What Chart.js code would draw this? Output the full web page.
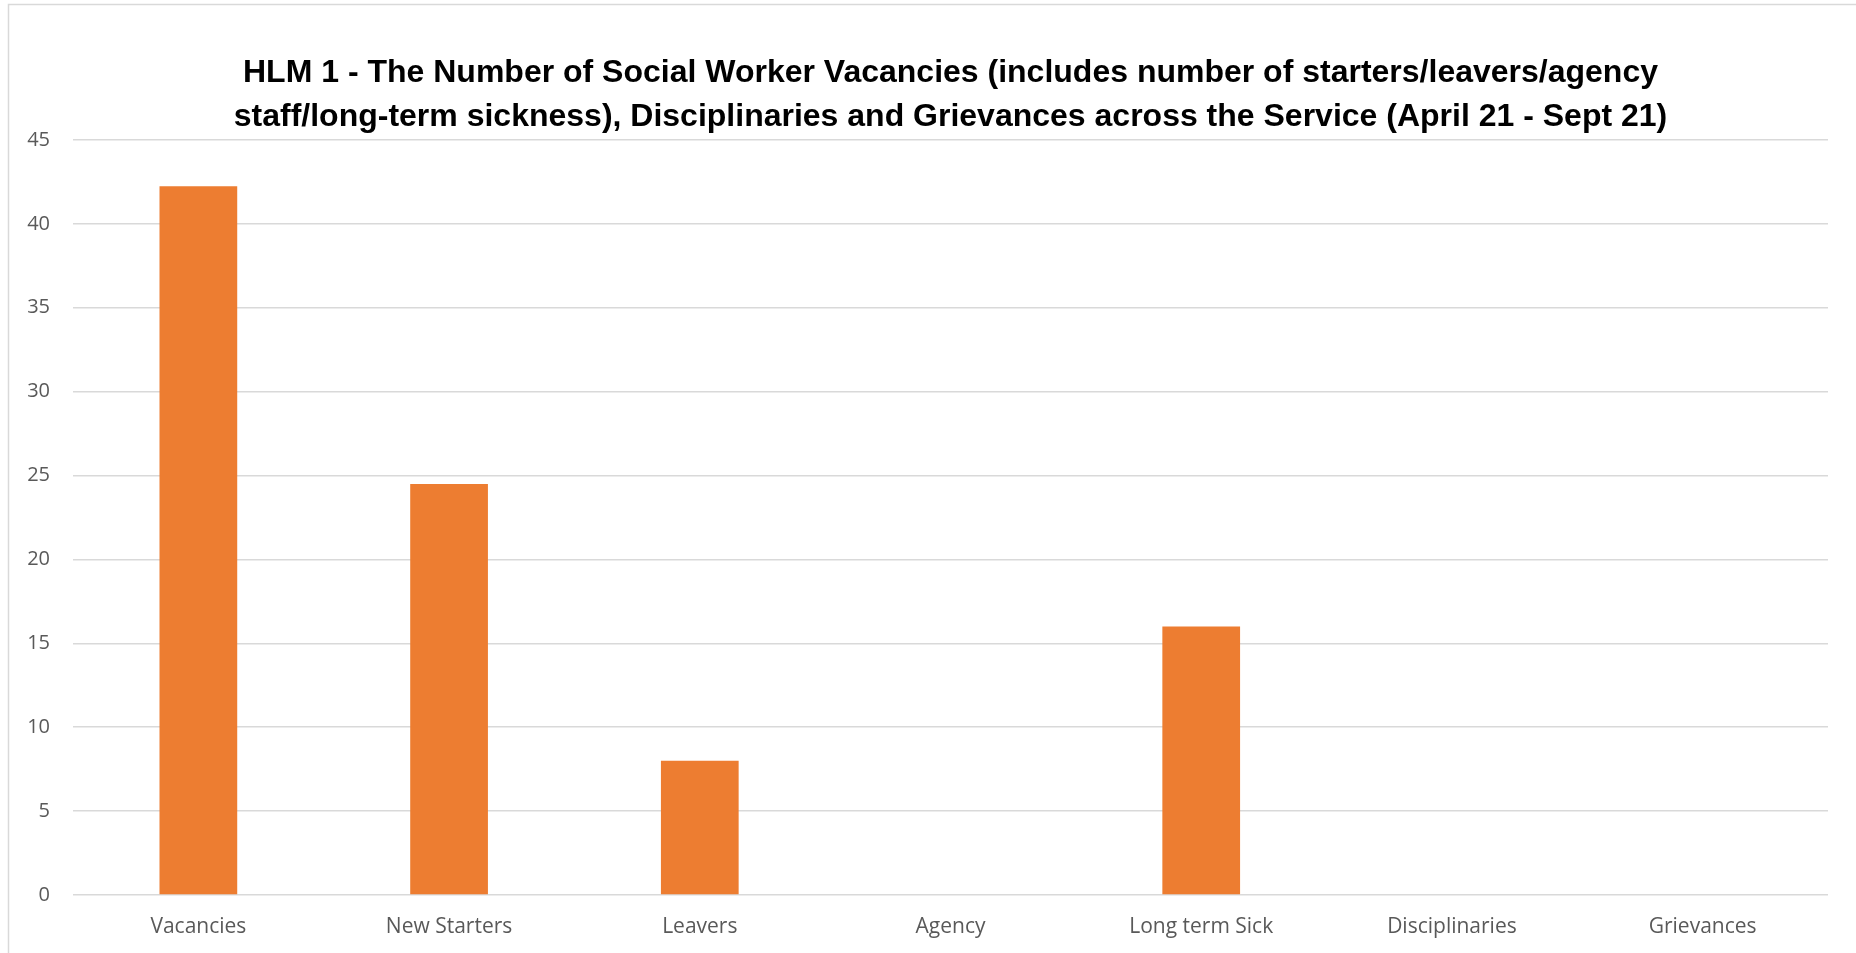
<!DOCTYPE html>
<html>
<head>
<meta charset="utf-8">
<script src="https://cdn.jsdelivr.net/npm/chart.js@4"></script>
<style>
  html, body { margin: 0; padding: 0; background: #fff; }
  #wrap { width: 1856px; height: 953px; position: relative; }
</style>
</head>
<body>
<div id="wrap"><canvas id="chart"></canvas></div>
<script>
const categories = ['Vacancies', 'New Starters', 'Leavers', 'Agency', 'Long term Sick', 'Disciplinaries', 'Grievances'];
const counts = [42.25, 24.5, 8, 0, 16, 0, 0];
const titleLines = [
  'HLM 1 - The Number of Social Worker Vacancies (includes number of starters/leavers/agency',
  'staff/long-term sickness), Disciplinaries and Grievances across the Service (April 21 - Sept 21)'
];

const orange = '#ED7D31';
const gridGrey = '#d9d9d9';
const labelGrey = '#595959';

// thin frame on the top and left edges, like the exported Excel chart
const framePlugin = {
  id: 'frame',
  beforeDraw(chart) {
    const ctx = chart.ctx;
    ctx.save();
    ctx.strokeStyle = gridGrey;
    ctx.lineWidth = 1.5;
    ctx.beginPath();
    ctx.moveTo(8.5, chart.height);
    ctx.lineTo(8.5, 4.5);
    ctx.lineTo(chart.width, 4.5);
    ctx.stroke();
    ctx.restore();
  }
};

window.onload = function() {
  const ctx = document.getElementById('chart').getContext('2d');
  window.myBar = new Chart(ctx, {
    type: 'bar',
    data: {
      labels: categories,
      datasets: [{
        data: counts,
        backgroundColor: orange,
        barPercentage: 0.31,
        categoryPercentage: 1
      }]
    },
    options: {
      responsive: true,
      maintainAspectRatio: false,
      animation: false,
      layout: { padding: { left: 0, right: 28, top: 0, bottom: 0 } },
      plugins: {
        legend: { display: false },
        tooltip: { enabled: false },
        title: {
          display: true,
          fullSize: false,
          text: titleLines,
          color: '#000',
          font: { family: '"Liberation Sans", Arial, sans-serif', size: 32, weight: 'bold', lineHeight: 1.375 },
          padding: { top: 51, bottom: 1 }
        }
      },
      scales: {
        x: {
          grid: { display: false, drawTicks: false },
          border: { display: false },
          ticks: {
            color: labelGrey,
            font: { family: '"Open Sans", sans-serif', size: 21 },
            padding: 19
          },
          afterFit(scale) { scale.height = 58; }
        },
        y: {
          min: 0,
          max: 45,
          ticks: {
            stepSize: 5,
            color: labelGrey,
            font: { family: '"Open Sans", sans-serif', size: 20 },
            padding: 23
          },
          grid: { color: gridGrey, lineWidth: 1.5, drawTicks: false },
          border: { display: false },
          afterFit(scale) { scale.width = 73; }
        }
      }
    },
    plugins: [framePlugin]
  });
};
</script>
</body>
</html>
